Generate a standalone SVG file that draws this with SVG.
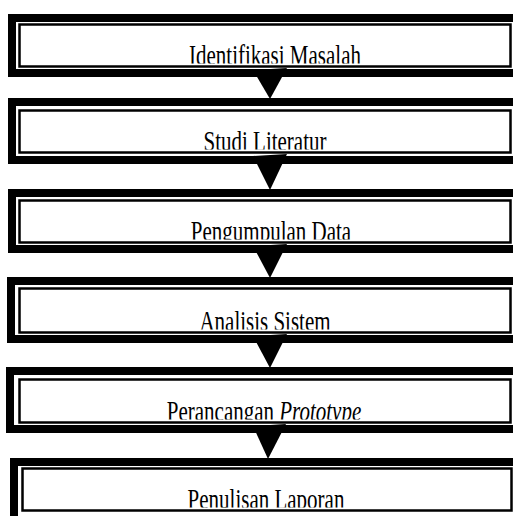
<svg xmlns="http://www.w3.org/2000/svg" width="513" height="516" viewBox="0 0 513 516">
  <style>
    .frame { fill: none; stroke: #000; stroke-width: 8; }
    .inner { fill: #fff; stroke: #000; stroke-width: 2.5; }
    .label { font-family: "Liberation Serif", "Times New Roman", serif; font-size: 30px; fill: #000; text-anchor: middle; }
    .arrow { fill: #000; }
  </style>
  <defs>
    <!-- text areas: labels are cut off just above their baseline -->
    <clipPath id="c1"><rect x="20" y="25" width="490" height="38.5"/></clipPath>
    <clipPath id="c2"><rect x="20" y="111" width="490" height="38.5"/></clipPath>
    <clipPath id="c3"><rect x="20" y="201" width="490" height="38.5"/></clipPath>
    <clipPath id="c4"><rect x="20" y="289" width="490" height="40.5"/></clipPath>
    <clipPath id="c5"><rect x="20" y="380" width="490" height="39.5"/></clipPath>
    <clipPath id="c6"><rect x="23" y="469" width="487" height="38.5"/></clipPath>
  </defs>
  <rect width="513" height="516" fill="#fff"/>

  <g id="identifikasi-masalah">
    <rect class="frame" x="12" y="18" width="520" height="55"/>
    <rect class="inner" x="19.5" y="24.5" width="491" height="42"/>
    <g clip-path="url(#c1)">
      <text class="label" transform="translate(275 65) scale(0.7 1)">Identifikasi Masalah</text>
    </g>
  </g>

  <g id="studi-literatur">
    <rect class="frame" x="12" y="102" width="520" height="58"/>
    <rect class="inner" x="19.5" y="110.5" width="491" height="42"/>
    <g clip-path="url(#c2)">
      <text class="label" transform="translate(265 151) scale(0.7 1)">Studi Literatur</text>
    </g>
  </g>

  <g id="pengumpulan-data">
    <rect class="frame" x="12" y="193" width="520" height="56"/>
    <rect class="inner" x="19.5" y="200.5" width="491" height="42"/>
    <g clip-path="url(#c3)">
      <text class="label" transform="translate(271 241) scale(0.7 1)">Pengumpulan Data</text>
    </g>
  </g>

  <g id="analisis-sistem">
    <rect class="frame" x="11" y="281" width="520" height="58"/>
    <rect class="inner" x="19.5" y="288.5" width="491" height="44"/>
    <g clip-path="url(#c4)">
      <text class="label" transform="translate(265 331) scale(0.7 1)">Analisis Sistem</text>
    </g>
  </g>

  <g id="perancangan-prototype">
    <rect class="frame" x="10" y="371" width="520" height="58"/>
    <rect class="inner" x="19.5" y="379.5" width="491" height="43"/>
    <g clip-path="url(#c5)">
      <text class="label" transform="translate(264 421) scale(0.7 1)">Perancangan <tspan font-style="italic">Prototype</tspan></text>
    </g>
  </g>

  <g id="penulisan-laporan">
    <rect class="frame" x="14" y="462" width="520" height="60"/>
    <rect class="inner" x="22.5" y="468.5" width="489" height="42"/>
    <g clip-path="url(#c6)">
      <text class="label" transform="translate(266 509) scale(0.7 1)">Penulisan Laporan</text>
    </g>
  </g>

  <g id="connectors">
    <polygon class="arrow" points="253,70 287,68 270,99"/>
    <polygon class="arrow" points="253,156 287,154 270,190"/>
    <polygon class="arrow" points="253,246 287,244 270,278"/>
    <polygon class="arrow" points="253,336 287,334 270,368"/>
    <polygon class="arrow" points="253,426 286,424 268,459"/>
  </g>
</svg>
